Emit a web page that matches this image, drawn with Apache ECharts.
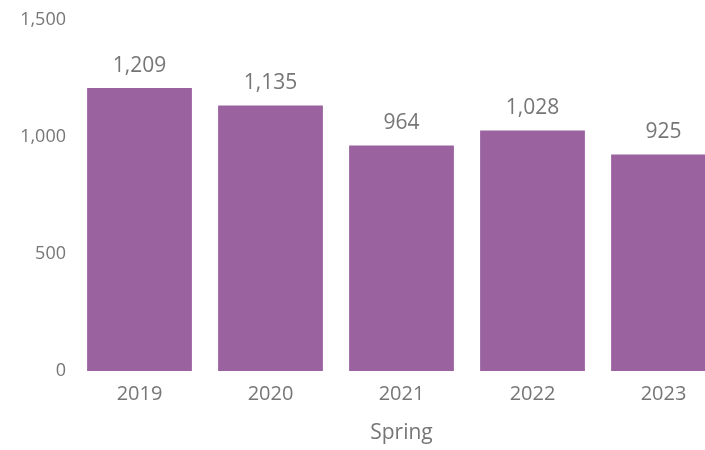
<!DOCTYPE html>
<html>
<head>
<meta charset="utf-8">
<style>
  html, body { margin: 0; padding: 0; background: #fff; overflow: hidden; }
  /* canvas is wider than the window so the last bar is cut off at the edge */
  #chart { width: 740px; height: 450px; }
</style>
<script src="https://cdn.jsdelivr.net/npm/echarts@6/dist/echarts.min.js"></script>
</head>
<body>
<div id="chart"></div>
<script>
// Spring counts per year
const years = ['2019', '2020', '2021', '2022', '2023'];
const springValues = [1209, 1135, 964, 1028, 925];
const yTicks = [0, 500, 1000, 1500];

const textColor = '#767676';
const fontFamily = '"Open Sans", "Noto Sans", sans-serif';
const fmt = v => v.toLocaleString('en-US');

const chart = echarts.init(document.getElementById('chart'), null, { renderer: 'canvas' });
chart.setOption({
  animation: false,
  grid: { left: 74, right: 11, top: 20, bottom: 79, containLabel: false },
  xAxis: {
    type: 'category',
    data: years,
    name: 'Spring',
    nameLocation: 'middle',
    nameGap: 52,
    nameTextStyle: { color: textColor, fontSize: 21, fontFamily },
    axisLine: { show: false },
    axisTick: { show: false },
    axisLabel: { color: textColor, fontSize: 20, fontFamily, margin: 13 }
  },
  yAxis: {
    type: 'value',
    min: yTicks[0],
    max: yTicks[yTicks.length - 1],
    interval: yTicks[1] - yTicks[0],
    splitLine: { show: false },
    axisLine: { show: false },
    axisTick: { show: false },
    axisLabel: { color: textColor, fontSize: 18, fontFamily, margin: 8, formatter: fmt }
  },
  series: [{
    type: 'bar',
    data: springValues,
    barCategoryGap: '20%',
    itemStyle: { color: '#9a63a0' },
    label: {
      show: true,
      position: 'top',
      distance: 12,
      color: textColor,
      fontSize: 21,
      fontFamily,
      formatter: p => fmt(p.value)
    }
  }]
});
</script>
</body>
</html>
